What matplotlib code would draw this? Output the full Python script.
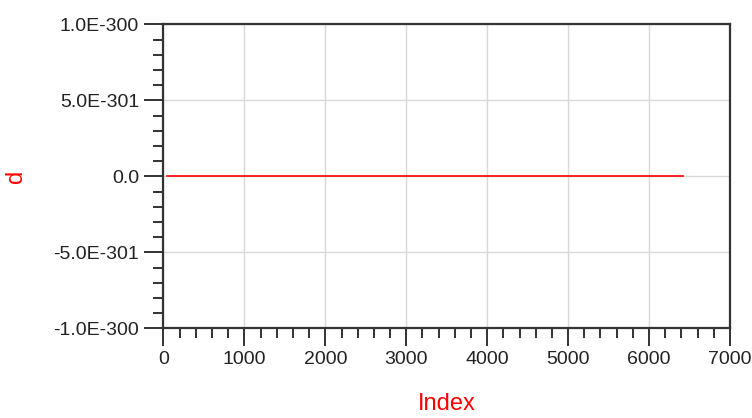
import matplotlib
matplotlib.use("Agg")
import matplotlib.pyplot as plt
from matplotlib.ticker import MultipleLocator

# data: d stays at 0 over the whole index range
index = [40, 6420]
d = [0.0, 0.0]

# the y values are tiny (1e-300), so plot them in units of 1e-301
y_unit = 1e-301
y_ticks = [-1e-300, -5e-301, 0.0, 5e-301, 1e-300]
y_tick_labels = ["-1.0E-300", "-5.0E-301", "0.0", "5.0E-301", "1.0E-300"]
x_ticks = [0, 1000, 2000, 3000, 4000, 5000, 6000, 7000]
x_tick_labels = ["0", "1000", "2000", "3000", "4000", "5000", "6000", "7000"]

plt.rcParams["font.family"] = ["Liberation Sans", "DejaVu Sans"]

fig = plt.figure(figsize=(7.52, 4.18), dpi=100)
ax = fig.add_axes([0.2174, 0.2146, 0.7533, 0.7268])

ax.plot(index, [v / y_unit for v in d], color="#ff0000", linewidth=1.2, zorder=3)

ax.set_xlim(0, 7000)
ax.set_ylim(y_ticks[0] / y_unit, y_ticks[-1] / y_unit)
ax.set_xticks(x_ticks)
ax.set_xticklabels(x_tick_labels)
ax.set_yticks([t / y_unit for t in y_ticks])
ax.set_yticklabels(y_tick_labels)
ax.xaxis.set_minor_locator(MultipleLocator(200))
ax.yaxis.set_minor_locator(MultipleLocator(1))

ax.grid(True, which="major", color="#d8d8d8", linewidth=1.0, zorder=0)
ax.set_axisbelow(True)

for side in ["left", "bottom", "top", "right"]:
    ax.spines[side].set_color("#333333")
    ax.spines[side].set_linewidth(1.6)

ax.tick_params(axis="y", which="major", length=14, width=1.3, color="#222222",
               labelsize=14, labelcolor="#222222", pad=3.5)
ax.tick_params(axis="y", which="minor", length=7, width=1.3, color="#222222")
ax.tick_params(axis="x", which="major", length=13, width=1.3, color="#222222",
               labelsize=14, labelcolor="#222222", pad=3)
ax.tick_params(axis="x", which="minor", length=7, width=1.3, color="#222222")

ax.set_xlabel("Index", color="#ff0000", fontsize=17, labelpad=18)
ax.set_ylabel("d", color="#ff0000", fontsize=17, labelpad=19)

fig.savefig("out.png", dpi=100)
